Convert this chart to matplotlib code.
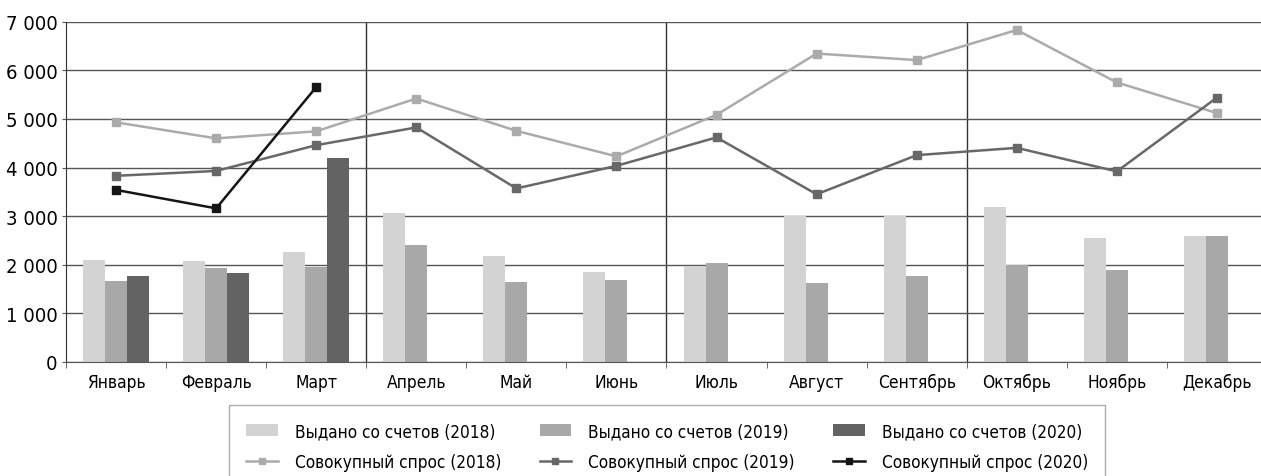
import numpy as np
import matplotlib
matplotlib.use('Agg')
import matplotlib.pyplot as plt
from matplotlib.ticker import FuncFormatter, MultipleLocator, FixedLocator

months = ['Январь', 'Февраль', 'Март', 'Апрель', 'Май', 'Июнь',
          'Июль', 'Август', 'Сентябрь', 'Октябрь', 'Ноябрь', 'Декабрь']

# выдано со счетов (столбцы)
issued_2018 = [2100, 2070, 2270, 3055, 2180, 1855, 1980, 3005, 2995, 3180, 2560, 2600]
issued_2019 = [1670, 1925, 1955, 2410, 1650, 1690, 2045, 1615, 1760, 1995, 1895, 2600]
issued_2020 = [1760, 1840, 4190, np.nan, np.nan, np.nan, np.nan, np.nan, np.nan, np.nan, np.nan, np.nan]

# совокупный спрос (линии)
demand_2018 = [4930, 4600, 4745, 5420, 4755, 4230, 5085, 6345, 6210, 6830, 5750, 5120]
demand_2019 = [3830, 3930, 4460, 4825, 3570, 4035, 4620, 3450, 4255, 4405, 3920, 5440]
demand_2020 = [3540, 3160, 5655, np.nan, np.nan, np.nan, np.nan, np.nan, np.nan, np.nan, np.nan, np.nan]

# узкий шрифт, похожий на оригинал
plt.rcParams['font.family'] = ['DejaVu Sans']
plt.rcParams['font.stretch'] = 'condensed'

fig = plt.figure(figsize=(12.61, 4.77), dpi=100)
# правый край оси немного за пределами картинки, как в оригинале
ax = fig.add_axes([66 / 1261, 1 - 363 / 477, (1267 - 66) / 1261, (363 - 22.7) / 477])

x = np.arange(len(months))
w = 0.22
bar_colors = ['#d3d3d3', '#a8a8a8', '#636363']
line_colors = ['#ababab', '#686868', '#151515']

ax.bar(x - w, issued_2018, w, color=bar_colors[0], label='Выдано со счетов (2018)', zorder=2)
ax.bar(x, issued_2019, w, color=bar_colors[1], label='Выдано со счетов (2019)', zorder=2)
ax.bar(x + w, issued_2020, w, color=bar_colors[2], label='Выдано со счетов (2020)', zorder=2)

for vals, c, lab in [(demand_2018, line_colors[0], 'Совокупный спрос (2018)'),
                     (demand_2019, line_colors[1], 'Совокупный спрос (2019)'),
                     (demand_2020, line_colors[2], 'Совокупный спрос (2020)')]:
    ax.plot(x, vals, color=c, lw=1.8, marker='s', ms=6, label=lab, zorder=3)

ax.set_xlim(-0.5, 11.5)
ax.set_ylim(0, 7000)
ax.yaxis.set_major_locator(MultipleLocator(1000))
ax.yaxis.set_major_formatter(FuncFormatter(lambda v, p: f'{int(v):,}'.replace(',', ' ')))
ax.grid(axis='y', color='#555555', lw=1, zorder=1)
for xv in [2.5, 5.5, 8.5]:
    ax.axvline(xv, color='#333333', lw=1, zorder=1)

ax.set_xticks(x)
ax.set_xticklabels(months, fontsize=12.5)
ax.xaxis.set_minor_locator(FixedLocator(np.arange(-0.5, 12, 1)))
ax.tick_params(axis='x', which='major', length=0, pad=8)
ax.tick_params(axis='x', which='minor', length=4, color='#555555')
ax.tick_params(axis='y', length=3, color='#555555', labelsize=14.5, pad=3)

for s in ['top', 'right']:
    ax.spines[s].set_visible(False)
ax.spines['left'].set_color('#333333')
ax.spines['bottom'].set_color('#555555')

handles, labels = ax.get_legend_handles_labels()
# порядок: столбцы в первой строке, линии во второй
order = [3, 0, 4, 1, 5, 2]
leg = fig.legend([handles[i] for i in order], [labels[i] for i in order],
                 loc='upper left', bbox_to_anchor=(229 / 1261, 1 - 406 / 477),
                 borderaxespad=0, ncol=3, fontsize=12.3, frameon=True, fancybox=False,
                 handlelength=1.85, handletextpad=1.0, columnspacing=2.25,
                 borderpad=1.0, labelspacing=0.75, markerscale=0.7)
leg.get_frame().set_edgecolor('#999999')
leg.get_frame().set_linewidth(1)

fig.savefig('out.png', dpi=100)
